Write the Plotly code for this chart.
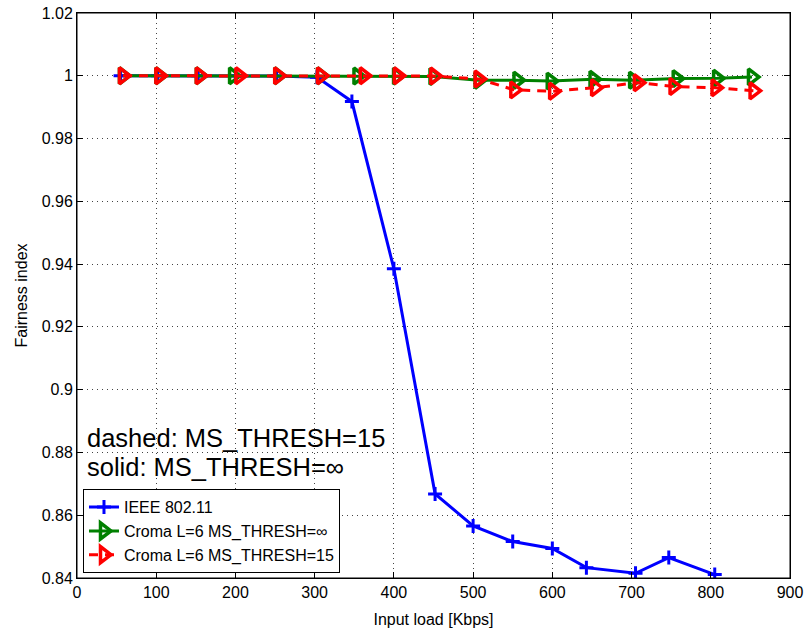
import plotly.graph_objects as go

# Data
ieee_x = [55, 102, 153, 200, 252, 303, 347, 400, 452, 500, 550, 600, 643, 705, 747, 805]
ieee_y = [1.0, 1.0, 1.0, 1.0, 0.9999, 0.9995, 0.9918, 0.9385, 0.8668, 0.8566, 0.8516, 0.8494, 0.8433, 0.8415, 0.8465, 0.8411]

croma_inf_x = [58, 104, 155, 197, 254, 308, 354, 404, 450, 507, 556, 598, 652, 702, 757, 808, 852]
croma_inf_y = [1.0, 1.0, 1.0, 1.0, 1.0, 1.0, 0.9999, 0.9999, 0.9998, 0.9986, 0.9986, 0.9983, 0.9989, 0.9986, 0.9991, 0.9992, 0.9996]

croma_15_x = [58, 104, 155, 205, 254, 308, 362, 405, 451, 507, 552, 601, 654, 708, 753, 806, 854]
croma_15_y = [1.0, 1.0, 1.0, 1.0, 1.0, 1.0, 1.0, 1.0, 0.9999, 0.9990, 0.9955, 0.9951, 0.9962, 0.9978, 0.9966, 0.9962, 0.9952]

x_ticks = list(range(0, 901, 100))
y_ticks = [0.84, 0.86, 0.88, 0.9, 0.92, 0.94, 0.96, 0.98, 1.0, 1.02]
y_ticklabels = ["0.84", "0.86", "0.88", "0.9", "0.92", "0.94", "0.96", "0.98", "1", "1.02"]

FONT = "Liberation Sans, Arial, Helvetica, sans-serif"

fig = go.Figure()
fig.add_trace(go.Scatter(
    x=ieee_x, y=ieee_y, name="IEEE 802.11", mode="lines+markers",
    line=dict(color="#0000ff", width=3),
    marker=dict(symbol="cross-thin", size=10, line=dict(color="#0000ff", width=3)),
))
fig.add_trace(go.Scatter(
    x=croma_inf_x, y=croma_inf_y, name="Croma L=6 MS_THRESH=∞", mode="lines+markers",
    line=dict(color="#008000", width=3),
    marker=dict(symbol="triangle-right-open", size=14, color="#008000", line=dict(width=3.5)),
))
fig.add_trace(go.Scatter(
    x=croma_15_x, y=croma_15_y, name="Croma L=6 MS_THRESH=15", mode="lines+markers",
    line=dict(color="#ff0000", width=3, dash="9px,7px"),
    marker=dict(symbol="triangle-right-open", size=14, color="#ff0000", line=dict(width=3.5)),
))

axis_common = dict(
    showline=True, linecolor="black", linewidth=1, mirror="ticks",
    ticks="inside", ticklen=6, tickcolor="black",
    showgrid=True, gridcolor="#444444", griddash="1px,4px", gridwidth=1,
    zeroline=False, automargin=False,
    tickfont=dict(family=FONT, size=16, color="black"),
)

fig.update_xaxes(range=[0, 900], tickvals=x_ticks, ticktext=[str(v) for v in x_ticks],
                 title=dict(text="Input load [Kbps]", font=dict(family=FONT, size=16, color="black"), standoff=13),
                 **axis_common)
fig.update_yaxes(range=[0.84, 1.02], tickvals=y_ticks, ticktext=y_ticklabels,
                 title=dict(text="Fairness index", font=dict(family=FONT, size=16, color="black"), standoff=10),
                 **axis_common)

# plot-area frame
fig.add_shape(type="rect", xref="paper", yref="paper", x0=0, x1=1, y0=0, y1=1,
              line=dict(color="black", width=1), fillcolor="rgba(0,0,0,0)", layer="above")

fig.add_annotation(x=10, y=0.8846, xref="x", yref="y", text="dashed: MS_THRESH=15",
                   showarrow=False, xanchor="left", yanchor="middle",
                   font=dict(family=FONT, size=25.5, color="black"))
fig.add_annotation(x=10, y=0.8755, xref="x", yref="y", text="solid: MS_THRESH=∞",
                   showarrow=False, xanchor="left", yanchor="middle",
                   font=dict(family=FONT, size=25.5, color="black"))

fig.update_layout(
    width=807, height=633,
    margin=dict(l=77, r=17, t=13, b=55),
    paper_bgcolor="white", plot_bgcolor="white",
    font=dict(family=FONT, size=16, color="black"),
    legend=dict(x=0.0084, y=0.0085, xanchor="left", yanchor="bottom",
                bgcolor="white", bordercolor="black", borderwidth=1,
                font=dict(family=FONT, size=16, color="black"),
                tracegroupgap=0, itemwidth=30),
    showlegend=True,
)

fig.write_html(
    "out.html",
    config={"displayModeBar": False},
    post_script="document.body.style.margin='0';document.body.style.padding='0';",
)
